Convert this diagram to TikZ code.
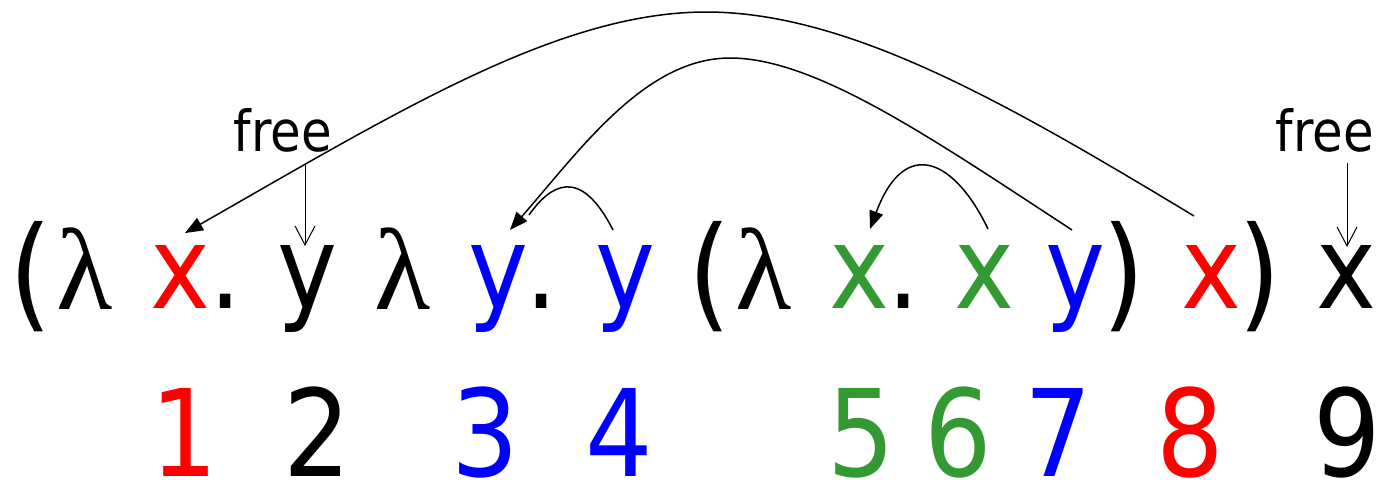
\documentclass[tikz,border=0pt]{standalone}
\usepackage{fontspec}
\setmainfont{DejaVu Sans}[FakeStretch=0.88]
\newfontfamily\lamfont{Liberation Serif}
\usetikzlibrary{arrows.meta}
\definecolor{vred}{RGB}{255,0,0}
\definecolor{vblue}{RGB}{0,0,255}
\definecolor{vgreen}{RGB}{51,153,51}
\begin{document}
\begin{tikzpicture}[x=0.5pt,y=-0.5pt,
  sym/.style={inner sep=0pt, outer sep=0pt, anchor=base, font=\fontsize{57.6pt}{60pt}\selectfont},
  lam/.style={sym, font=\lamfont\fontsize{58pt}{60pt}\selectfont},
  paren/.style={sym, font=\fontsize{62pt}{64pt}\selectfont},
  num/.style={sym, font=\fontsize{60.4pt}{62pt}\selectfont},
  lbl/.style={sym, font=\fontsize{28.3pt}{30pt}\selectfont},
  link/.style={line width=0.75pt, -{Triangle[length=9pt,width=7pt]}},
  plain/.style={line width=0.75pt},
  freearrow/.style={line width=0.5pt, -{Straight Barb[length=9.5pt,width=10pt]}}]
\useasboundingbox (0,0) rectangle (1384,479);
% main row
\node[paren] (p1) at (31,315) {(};
\node[lam] (l1) at (85,309) {λ};
\node[sym,text=vred] (x1) at (180.5,308) {x};
\node[sym] (d1) at (226,308) {.};
\node[sym] (y2) at (307,308) {y};
\node[lam] (l2) at (402.5,309) {λ};
\node[sym,text=vblue] (y3) at (498,308) {y};
\node[sym] (d2) at (542,308) {.};
\node[sym,text=vblue] (y4) at (625,308) {y};
\node[paren] (p2) at (710,315) {(};
\node[lam] (l3) at (764,309) {λ};
\node[sym,text=vgreen] (x5) at (859,308) {x};
\node[sym] (d3) at (904,308) {.};
\node[sym,text=vgreen] (x6) at (984,308) {x};
\node[sym,text=vblue] (y7) at (1075,308) {y};
\node[paren] (p3) at (1124,315) {)};
\node[sym,text=vred] (x8) at (1211,308) {x};
\node[paren] (p4) at (1260,315) {)};
\node[sym] (x9) at (1346,308) {x};
% numbers
\node[num,text=vred] (n1) at (184,476) {1};
\node[num] (n2) at (317,476) {2};
\node[num,text=vblue] (n3) at (485,476) {3};
\node[num,text=vblue] (n4) at (619,476) {4};
\node[num,text=vgreen] (n5) at (861,476) {5};
\node[num,text=vgreen] (n6) at (958,476) {6};
\node[num,text=vblue] (n7) at (1058,476) {7};
\node[num,text=vred] (n8) at (1190,476) {8};
\node[num] (n9) at (1347,476) {9};
% free labels
\node[lbl] (free1) at (283,151) {free};
\node[lbl] (free2) at (1325,151) {free};
% connector end points
\coordinate (f1s) at (305,163);
\coordinate (f1e) at (305,246);
\coordinate (f2s) at (1347,163);
\coordinate (f2e) at (1347,247);
\coordinate (a1s) at (1194,216);
\coordinate (a1m) at (706,12);
\coordinate (a1e) at (185,233);
\coordinate (a2s) at (1072,230);
\coordinate (a2m) at (730,58);
\coordinate (a2e) at (510,230);
\coordinate (s1) at (529,215);
\coordinate (s2) at (613,230);
\coordinate (g1) at (988,229);
\coordinate (g2) at (870,229);
% connectors
\draw[freearrow] (f1s) -- (f1e);
\draw[freearrow] (f2s) -- (f2e);
\draw[link] (a1s) .. controls (1010,105) and (850,12) .. (a1m) .. controls (560,12) and (400,110) .. (a1e);
\draw[link] (a2s) .. controls (930,137) and (815,58) .. (a2m) .. controls (645,58) and (580,150) .. (a2e);
\draw[plain] (s1) .. controls (550,185) and (580,165) .. (s2);
\draw[link] (g1) .. controls (955,160) and (905,135) .. (g2);
\end{tikzpicture}
\end{document}
